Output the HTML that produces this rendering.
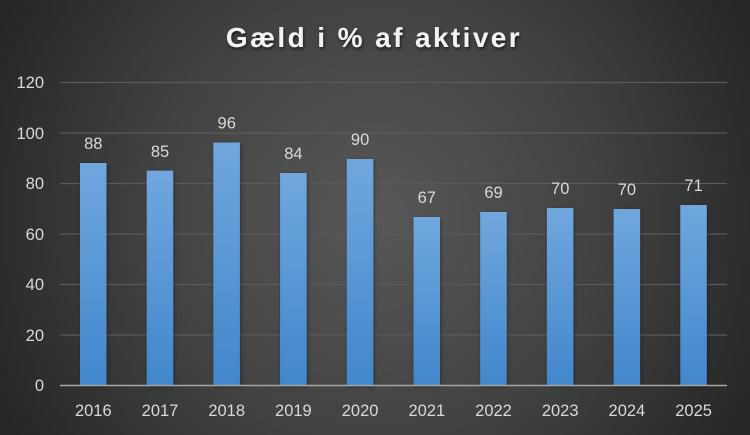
<!DOCTYPE html>
<html><head><meta charset="utf-8"><style>
html,body{margin:0;padding:0;}
body{width:750px;height:435px;overflow:hidden;}
svg{display:block;}
</style></head><body>
<svg width="750" height="435" viewBox="0 0 750 435" xmlns="http://www.w3.org/2000/svg" font-family="'Liberation Sans', sans-serif">
<defs>
<radialGradient id="bg" cx="375" cy="217" r="420" gradientUnits="userSpaceOnUse">
<stop offset="0" stop-color="#585858"/>
<stop offset="0.55" stop-color="#414141"/>
<stop offset="1" stop-color="#262626"/>
</radialGradient>
<linearGradient id="bar" x1="0" y1="0" x2="0" y2="1">
<stop offset="0" stop-color="#70a7de"/>
<stop offset="1" stop-color="#4187cc"/>
</linearGradient>
<filter id="sh" x="-30%" y="-10%" width="160%" height="120%">
<feGaussianBlur in="SourceAlpha" stdDeviation="2"/>
<feOffset dx="1" dy="1"/>
<feComponentTransfer><feFuncA type="linear" slope="0.35"/></feComponentTransfer>
<feMerge><feMergeNode/><feMergeNode in="SourceGraphic"/></feMerge>
</filter>
<filter id="tsh" x="-10%" y="-30%" width="120%" height="160%">
<feGaussianBlur in="SourceAlpha" stdDeviation="1.5"/>
<feOffset dx="1" dy="2"/>
<feComponentTransfer><feFuncA type="linear" slope="0.6"/></feComponentTransfer>
<feMerge><feMergeNode/><feMergeNode in="SourceGraphic"/></feMerge>
</filter>
</defs>
<rect width="750" height="435" fill="url(#bg)"/>
<text x="374" y="47" text-anchor="middle" font-size="28" font-weight="bold" fill="#f2f2f2" letter-spacing="2.4" filter="url(#tsh)">Gæld i % af aktiver</text>
<g stroke="#5a5a5a" stroke-width="1.2">
<line x1="60" y1="82.5" x2="727" y2="82.5"/>
<line x1="60" y1="133" x2="727" y2="133"/>
<line x1="60" y1="183.5" x2="727" y2="183.5"/>
<line x1="60" y1="234" x2="727" y2="234"/>
<line x1="60" y1="284.5" x2="727" y2="284.5"/>
<line x1="60" y1="335" x2="727" y2="335"/>
</g>
<g fill="#d9d9d9" font-size="16.5" text-anchor="end">
<text x="44" y="88">120</text>
<text x="44" y="139">100</text>
<text x="44" y="189">80</text>
<text x="44" y="240">60</text>
<text x="44" y="290">40</text>
<text x="44" y="341">20</text>
<text x="44" y="391">0</text>
</g>
<g fill="url(#bar)" filter="url(#sh)">
<rect x="80" y="163" width="26.5" height="222.5"/>
<rect x="146.7" y="170.6" width="26.5" height="214.9"/>
<rect x="213.4" y="142.5" width="26.5" height="243"/>
<rect x="280.1" y="173" width="26.5" height="212.5"/>
<rect x="346.8" y="159" width="26.5" height="226.5"/>
<rect x="413.5" y="217" width="26.5" height="168.5"/>
<rect x="480.2" y="212" width="26.5" height="173.5"/>
<rect x="546.9" y="208" width="26.5" height="177.5"/>
<rect x="613.6" y="209" width="26.5" height="176.5"/>
<rect x="680.3" y="205" width="26.5" height="180.5"/>
</g>
<line x1="60" y1="385.5" x2="727" y2="385.5" stroke="#a6a6a6" stroke-width="1.5"/>
<g fill="#d9d9d9" font-size="16.5" text-anchor="middle">
<text x="93.3" y="149">88</text>
<text x="160" y="157">85</text>
<text x="226.7" y="128.5">96</text>
<text x="293.4" y="159">84</text>
<text x="360.1" y="145">90</text>
<text x="426.8" y="203">67</text>
<text x="493.5" y="198">69</text>
<text x="560.2" y="194">70</text>
<text x="626.9" y="195">70</text>
<text x="693.6" y="191">71</text>
</g>
<g fill="#d9d9d9" font-size="16.5" text-anchor="middle">
<text x="93.3" y="416">2016</text>
<text x="160" y="416">2017</text>
<text x="226.7" y="416">2018</text>
<text x="293.4" y="416">2019</text>
<text x="360.1" y="416">2020</text>
<text x="426.8" y="416">2021</text>
<text x="493.5" y="416">2022</text>
<text x="560.2" y="416">2023</text>
<text x="626.9" y="416">2024</text>
<text x="693.6" y="416">2025</text>
</g>
</svg>
</body></html>
